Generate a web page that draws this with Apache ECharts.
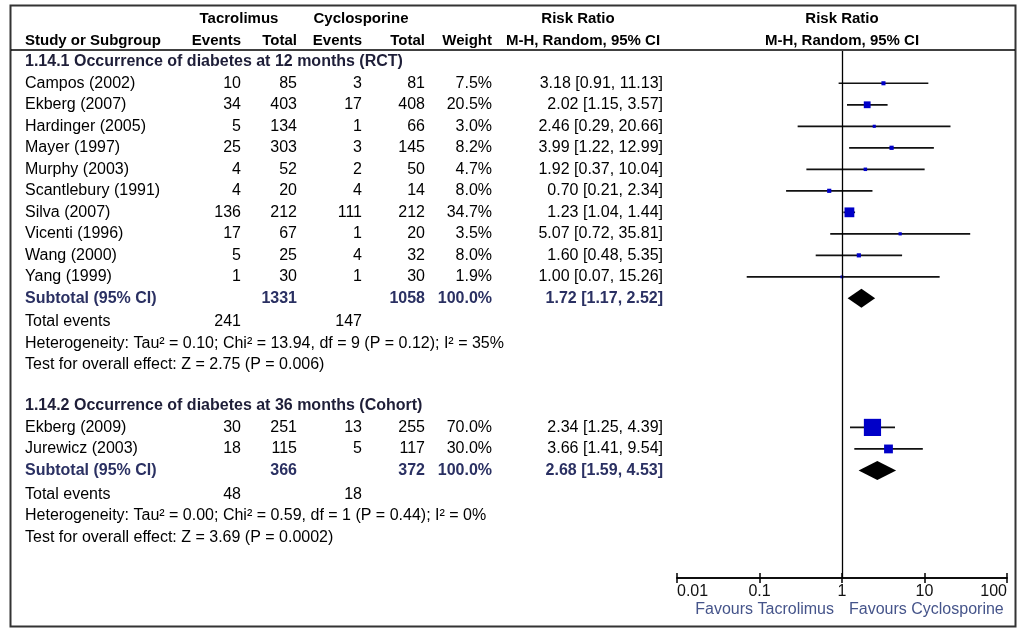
<!DOCTYPE html>
<html>
<head>
<meta charset="utf-8">
<title>Forest plot - diabetes, tacrolimus vs cyclosporine</title>
<script src="https://cdn.jsdelivr.net/npm/echarts@6/dist/echarts.min.js"></script>
<style>
  html, body { margin: 0; padding: 0; background: #fff; }
  #main { width: 1024px; height: 640px; }
</style>
</head>
<body>
<div id="main"></div>
<script>
// ===== data =====
var tickLabels = ['0.01', '0.1', '1', '10', '100'];

// 1.14.1 Occurrence of diabetes at 12 months (RCT)
var studies12 = ['Campos (2002)', 'Ekberg (2007)', 'Hardinger (2005)', 'Mayer (1997)', 'Murphy (2003)',
                 'Scantlebury (1991)', 'Silva (2007)', 'Vicenti (1996)', 'Wang (2000)', 'Yang (1999)'];
var tacEvents12 = [10, 34, 5, 25, 4, 4, 136, 17, 5, 1];
var tacTotal12  = [85, 403, 134, 303, 52, 20, 212, 67, 25, 30];
var cycEvents12 = [3, 17, 1, 3, 2, 4, 111, 1, 4, 1];
var cycTotal12  = [81, 408, 66, 145, 50, 14, 212, 20, 32, 30];
var weight12    = [7.5, 20.5, 3.0, 8.2, 4.7, 8.0, 34.7, 3.5, 8.0, 1.9];
var rr12        = [3.18, 2.02, 2.46, 3.99, 1.92, 0.70, 1.23, 5.07, 1.60, 1.00];
var lo12        = [0.91, 1.15, 0.29, 1.22, 0.37, 0.21, 1.04, 0.72, 0.48, 0.07];
var hi12        = [11.13, 3.57, 20.66, 12.99, 10.04, 2.34, 1.44, 35.81, 5.35, 15.26];

// 1.14.2 Occurrence of diabetes at 36 months (Cohort)
var studies36 = ['Ekberg (2009)', 'Jurewicz (2003)'];
var tacEvents36 = [30, 18];
var tacTotal36  = [251, 115];
var cycEvents36 = [13, 5];
var cycTotal36  = [255, 117];
var weight36    = [70.0, 30.0];
var rr36        = [2.34, 3.66];
var lo36        = [1.25, 1.41];
var hi36        = [4.39, 9.54];

// subgroup summaries
var groupTitles = ['1.14.1 Occurrence of diabetes at 12 months (RCT)',
                   '1.14.2 Occurrence of diabetes at 36 months (Cohort)'];
var subRR  = [1.72, 2.68];
var subLo  = [1.17, 1.59];
var subHi  = [2.52, 4.53];
var tau2   = ['0.10', '0.00'];
var chi2   = ['13.94', '0.59'];
var dfs    = [9, 1];
var hetP   = ['0.12', '0.44'];
var i2     = [35, 0];
var zVal   = ['2.75', '3.69'];
var zP     = ['0.006', '0.0002'];

// ===== layout =====
var FONT = '"Liberation Sans", Arial, sans-serif';
var COL = { name: 25, tacEv: 241, tacTot: 297, cycEv: 362, cycTot: 425, weight: 492, ci: 663 };
var groupStart = [0, 16];
var HEAD_COLOR = '#1e1e38', SUB_COLOR = '#2a3062', TEXT_COLOR = '#000';

function ciText(r, l, h) { return r.toFixed(2) + ' [' + l.toFixed(2) + ', ' + h.toFixed(2) + ']'; }
function sum(a) { return a.reduce(function (s, v) { return s + v; }, 0); }

var groups = [
  { names: studies12, te: tacEvents12, tt: tacTotal12, ce: cycEvents12, ct: cycTotal12, w: weight12, rr: rr12, lo: lo12, hi: hi12 },
  { names: studies36, te: tacEvents36, tt: tacTotal36, ce: cycEvents36, ct: cycTotal36, w: weight36, rr: rr36, lo: lo36, hi: hi36 }
];

var tableRows = [];   // text lines
var studyPoints = []; // [rr, lo, hi, row, weight]
var diamonds = [];    // [rr, lo, hi, row]

groups.forEach(function (g, k) {
  var y0 = groupStart[k];
  tableRows.push({ y: y0, font: 'bold 16px ' + FONT, color: HEAD_COLOR,
    cells: [{ x: COL.name, text: groupTitles[k], align: 'left' }] });
  g.names.forEach(function (n, i) {
    var y = y0 + 1 + i;
    tableRows.push({ y: y, font: '16px ' + FONT, color: TEXT_COLOR, cells: [
      { x: COL.name, text: n, align: 'left' },
      { x: COL.tacEv, text: String(g.te[i]), align: 'right' },
      { x: COL.tacTot, text: String(g.tt[i]), align: 'right' },
      { x: COL.cycEv, text: String(g.ce[i]), align: 'right' },
      { x: COL.cycTot, text: String(g.ct[i]), align: 'right' },
      { x: COL.weight, text: g.w[i].toFixed(1) + '%', align: 'right' },
      { x: COL.ci, text: ciText(g.rr[i], g.lo[i], g.hi[i]), align: 'right' }
    ] });
    studyPoints.push([g.rr[i], g.lo[i], g.hi[i], y, g.w[i]]);
  });
  var ys = y0 + 1 + g.names.length;
  tableRows.push({ y: ys, font: 'bold 16px ' + FONT, color: SUB_COLOR, cells: [
    { x: COL.name, text: 'Subtotal (95% CI)', align: 'left' },
    { x: COL.tacTot, text: String(sum(g.tt)), align: 'right' },
    { x: COL.cycTot, text: String(sum(g.ct)), align: 'right' },
    { x: COL.weight, text: '100.0%', align: 'right' },
    { x: COL.ci, text: ciText(subRR[k], subLo[k], subHi[k]), align: 'right' }
  ] });
  diamonds.push([subRR[k], subLo[k], subHi[k], ys]);
  tableRows.push({ y: ys + 1.1, font: '16px ' + FONT, color: TEXT_COLOR, cells: [
    { x: COL.name, text: 'Total events', align: 'left' },
    { x: COL.tacEv, text: String(sum(g.te)), align: 'right' },
    { x: COL.cycEv, text: String(sum(g.ce)), align: 'right' }
  ] });
  tableRows.push({ y: ys + 2.1, font: '16px ' + FONT, color: TEXT_COLOR, cells: [
    { x: COL.name, align: 'left', text: 'Heterogeneity: Tau\u00b2 = ' + tau2[k] + '; Chi\u00b2 = ' + chi2[k] +
      ', df = ' + dfs[k] + ' (P = ' + hetP[k] + '); I\u00b2 = ' + i2[k] + '%' }
  ] });
  tableRows.push({ y: ys + 3.1, font: '16px ' + FONT, color: TEXT_COLOR, cells: [
    { x: COL.name, align: 'left', text: 'Test for overall effect: Z = ' + zVal[k] + ' (P = ' + zP[k] + ')' }
  ] });
});

// ===== chart =====
var myChart = echarts.init(document.getElementById('main'));

function headText(x, y, text, align, size) {
  return { type: 'text', x: x, y: y, style: { text: text, align: align, verticalAlign: 'middle',
    font: 'bold ' + (size || 15) + 'px ' + FONT, fill: '#000' } };
}

var axisCommon = {
  type: 'log', logBase: 10, min: 0.01, max: 100, position: 'bottom', gridIndex: 0,
  axisLine: { show: true, onZero: false, lineStyle: { color: '#000', width: 1.5 } },
  splitLine: { show: false }, minorTick: { show: false }
};

var option = {
  backgroundColor: '#fff',
  animation: false,
  grid: { left: 677, right: 17, top: 51, bottom: 62 },
  xAxis: [
    Object.assign({}, axisCommon, {
      axisTick: { show: true, inside: false, length: 5, lineStyle: { color: '#000', width: 1.5 } },
      axisLabel: {
        formatter: function (v, i) { return tickLabels[i]; },
        color: '#111', fontSize: 16, fontFamily: FONT, margin: 6,
        alignMinLabel: 'left', alignMaxLabel: 'right'
      }
    }),
    Object.assign({}, axisCommon, {
      axisTick: { show: true, inside: true, length: 5, lineStyle: { color: '#000', width: 1.5 } },
      axisLabel: { show: false }
    })
  ],
  yAxis: { type: 'value', inverse: true, min: -0.5, max: 24, show: false },
  series: [
    {
      // table text
      type: 'custom', clip: false, silent: true,
      data: tableRows.map(function (r) { return [1, r.y]; }),
      renderItem: function (params, api) {
        var row = tableRows[params.dataIndex];
        var y = api.coord([1, api.value(1)])[1];
        return {
          type: 'group',
          children: row.cells.map(function (c) {
            return { type: 'text', style: { x: c.x, y: y, text: c.text, align: c.align,
              verticalAlign: 'middle', font: row.font, fill: row.color } };
          })
        };
      }
    },
    {
      // study estimates with CI
      type: 'custom', clip: false, silent: true,
      data: studyPoints,
      renderItem: function (params, api) {
        var row = api.value(3);
        var p = api.coord([api.value(0), row]);
        var a = api.coord([api.value(1), row]);
        var b = api.coord([api.value(2), row]);
        var s = 2.5 + 0.21 * api.value(4);
        return {
          type: 'group',
          children: [
            { type: 'line', shape: { x1: a[0], y1: a[1], x2: b[0], y2: b[1] },
              style: { stroke: '#111', lineWidth: 1.7 } },
            { type: 'rect', shape: { x: p[0] - s / 2, y: p[1] - s / 2, width: s, height: s },
              style: { fill: '#0000c8' } }
          ]
        };
      },
      markLine: {
        silent: true, symbol: ['none', 'none'], label: { show: false },
        lineStyle: { color: '#000', width: 1.3, type: 'solid' },
        data: [{ xAxis: 1 }]
      }
    },
    {
      // subtotal diamonds
      type: 'custom', clip: false, silent: true,
      data: diamonds,
      renderItem: function (params, api) {
        var row = api.value(3);
        var p = api.coord([api.value(0), row]);
        var a = api.coord([api.value(1), row]);
        var b = api.coord([api.value(2), row]);
        var h = 9.5;
        return {
          type: 'polygon',
          shape: { points: [[a[0], a[1]], [p[0], p[1] - h], [b[0], b[1]], [p[0], p[1] + h]] },
          style: { fill: '#000' }
        };
      }
    }
  ],
  graphic: [
    { type: 'rect', shape: { x: 10.5, y: 5.5, width: 1005, height: 621 },
      style: { fill: 'none', stroke: '#333', lineWidth: 2 } },
    { type: 'line', shape: { x1: 11, y1: 50, x2: 1015, y2: 50 }, style: { stroke: '#000', lineWidth: 1.5 } },
    headText(239, 19, 'Tacrolimus', 'center'),
    headText(361, 19, 'Cyclosporine', 'center'),
    headText(578, 19, 'Risk Ratio', 'center'),
    headText(842, 19, 'Risk Ratio', 'center'),
    headText(25, 41, 'Study or Subgroup', 'left'),
    headText(COL.tacEv, 41, 'Events', 'right'),
    headText(COL.tacTot, 41, 'Total', 'right'),
    headText(COL.cycEv, 41, 'Events', 'right'),
    headText(COL.cycTot, 41, 'Total', 'right'),
    headText(COL.weight, 41, 'Weight', 'right'),
    headText(583, 41, 'M-H, Random, 95% CI', 'center'),
    headText(842, 41, 'M-H, Random, 95% CI', 'center'),
    { type: 'text', x: 834, y: 610, style: { text: 'Favours Tacrolimus', align: 'right', verticalAlign: 'middle',
      font: '16px ' + FONT, fill: '#45548a' } },
    { type: 'text', x: 849, y: 610, style: { text: 'Favours Cyclosporine', align: 'left', verticalAlign: 'middle',
      font: '16px ' + FONT, fill: '#45548a' } }
  ]
};

myChart.setOption(option);
</script>
</body>
</html>
